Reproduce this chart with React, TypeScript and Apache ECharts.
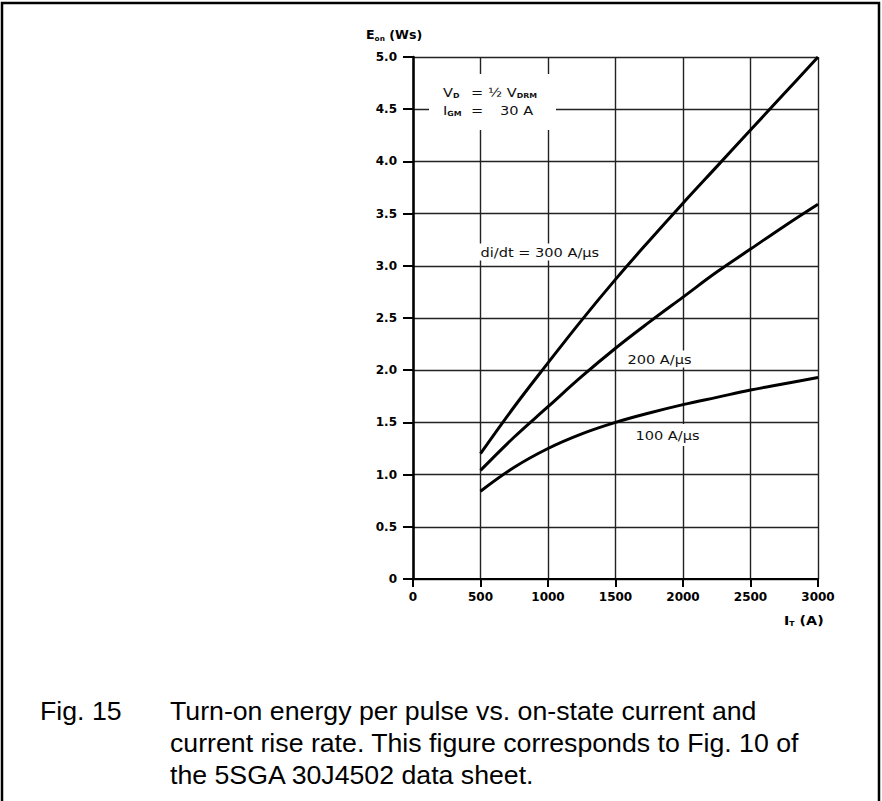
import React, { useEffect, useRef } from "react";
import * as echarts from "echarts";

const currents = [500, 750, 1000, 1250, 1500, 1750, 2000, 2250, 2500, 2750, 3000];
const e300 = [1.2, 1.65, 2.07, 2.48, 2.87, 3.24, 3.6, 3.95, 4.3, 4.65, 5.0];
const e200 = [1.04, 1.36, 1.65, 1.94, 2.21, 2.46, 2.7, 2.94, 3.16, 3.38, 3.59];
const e100 = [0.84, 1.07, 1.25, 1.39, 1.5, 1.59, 1.67, 1.74, 1.81, 1.87, 1.93];
const seriesNames = ["di/dt = 300 A/\u00b5s", "200 A/\u00b5s", "100 A/\u00b5s"];
const captionLines = [
  "Turn-on energy per pulse vs. on-state current and",
  "current rise rate. This figure corresponds to Fig. 10 of",
  "the 5SGA 30J4502 data sheet.",
];

const FONT = "DejaVu Sans";
const SX = 1.12;

export default function App() {
  const ref = useRef<HTMLDivElement>(null);
  useEffect(() => {
    if (!ref.current) return;
    const chart = echarts.init(ref.current, null, { renderer: "svg" });
    const mk = (vals: number[]) => currents.map((c, i) => [c, vals[i]]);
    const lineSeries = (name: string, vals: number[]) => ({
      type: "line",
      name,
      data: mk(vals),
      smooth: 0.4,
      showSymbol: false,
      symbol: "none",
      lineStyle: { color: "#000", width: 3 },
      z: 5,
    });
    const subRich = { s: { fontSize: 7, fontFamily: FONT, fontWeight: "bold", padding: [7, 0, 0, 0] } };
    const plainText = (text: string, x: number, y: number, bg = false) => ({
      type: "text",
      x,
      y,
      z: 50,
      scaleX: SX,
      style: {
        text,
        font: `13px "${FONT}"`,
        fill: "#111",
        backgroundColor: bg ? "#fff" : undefined,
        padding: bg ? [2, 4, 2, 4] : 0,
        textVerticalAlign: "middle",
        rich: subRich,
      },
    });
    chart.setOption({
      animation: false,
      backgroundColor: "#fff",
      grid: { left: 413, right: 64, top: 57, bottom: 222 },
      xAxis: {
        type: "value",
        min: 0,
        max: 3000,
        interval: 500,
        axisLine: { show: true, onZero: false, lineStyle: { color: "#000", width: 2 } },
        axisTick: { show: true, length: 8, lineStyle: { color: "#000", width: 2 } },
        axisLabel: {
          margin: 12,
          color: "#000",
          fontFamily: FONT,
          fontWeight: "bold",
          fontSize: 12,
          formatter: (v: number) => String(v),
        },
        splitLine: { show: true, lineStyle: { color: "#222", width: 1.4 } },
      },
      yAxis: {
        type: "value",
        min: 0,
        max: 5,
        interval: 0.5,
        axisLine: { show: true, onZero: false, lineStyle: { color: "#000", width: 2.5 } },
        axisTick: { show: true, length: 10, lineStyle: { color: "#000", width: 2 } },
        axisLabel: {
          margin: 16,
          color: "#000",
          fontFamily: FONT,
          fontWeight: "bold",
          fontSize: 12,
          formatter: (v: number) => (v === 0 ? "0" : v.toFixed(1)),
        },
        splitLine: { show: true, lineStyle: { color: "#222", width: 1.4 } },
      },
      series: [
        lineSeries(seriesNames[0], e300),
        lineSeries(seriesNames[1], e200),
        lineSeries(seriesNames[2], e100),
      ],
      graphic: [
        {
          type: "rect",
          z: 100,
          shape: { x: 2, y: 3, width: 877, height: 830 },
          style: { fill: "none", stroke: "#000", lineWidth: 2.5 },
        },
        {
          type: "rect",
          z: 40,
          shape: { x: 429, y: 74, width: 127, height: 56 },
          style: { fill: "#fff" },
        },
        plainText("V{s|D}", 443, 92),
        plainText("=", 471, 92),
        plainText("\u00bd V{s|DRM}", 488, 92),
        plainText("I{s|GM}", 443, 110),
        plainText("=", 471, 110),
        plainText("30 A", 500, 110),
        plainText(seriesNames[0], 476, 252, true),
        plainText(seriesNames[1], 623, 359, true),
        {
          type: "rect",
          z: 40,
          shape: { x: 627, y: 424, width: 91, height: 22 },
          style: { fill: "#fff" },
        },
        plainText(seriesNames[2], 631, 435, true),
        {
          type: "text",
          x: 366,
          y: 35,
          z: 50,
          scaleX: 1.05,
          style: {
            text: "E{s|on} (Ws)",
            font: `bold 12px "${FONT}"`,
            fill: "#000",
            textVerticalAlign: "middle",
            rich: subRich,
          },
        },
        {
          type: "text",
          x: 784,
          y: 620,
          z: 50,
          scaleX: 1.1,
          style: {
            text: "I{s|T} (A)",
            font: `bold 13px "${FONT}"`,
            fill: "#000",
            textVerticalAlign: "middle",
            rich: subRich,
          },
        },
        {
          type: "text",
          x: 40,
          y: 711,
          z: 50,
          style: { text: "Fig. 15", font: `26.7px "Liberation Sans"`, fill: "#000", textVerticalAlign: "middle" },
        },
        ...captionLines.map((t, i) => ({
          type: "text",
          x: 170,
          y: 711 + i * 32,
          z: 50,
          style: { text: t, font: `26.7px "Liberation Sans"`, fill: "#000", textVerticalAlign: "middle" },
        })),
      ],
    });
    return () => chart.dispose();
  }, []);
  return (
    <div
      ref={ref}
      style={{ position: "fixed", left: 0, top: 0, width: 882, height: 801, background: "#fff" }}
    />
  );
}
